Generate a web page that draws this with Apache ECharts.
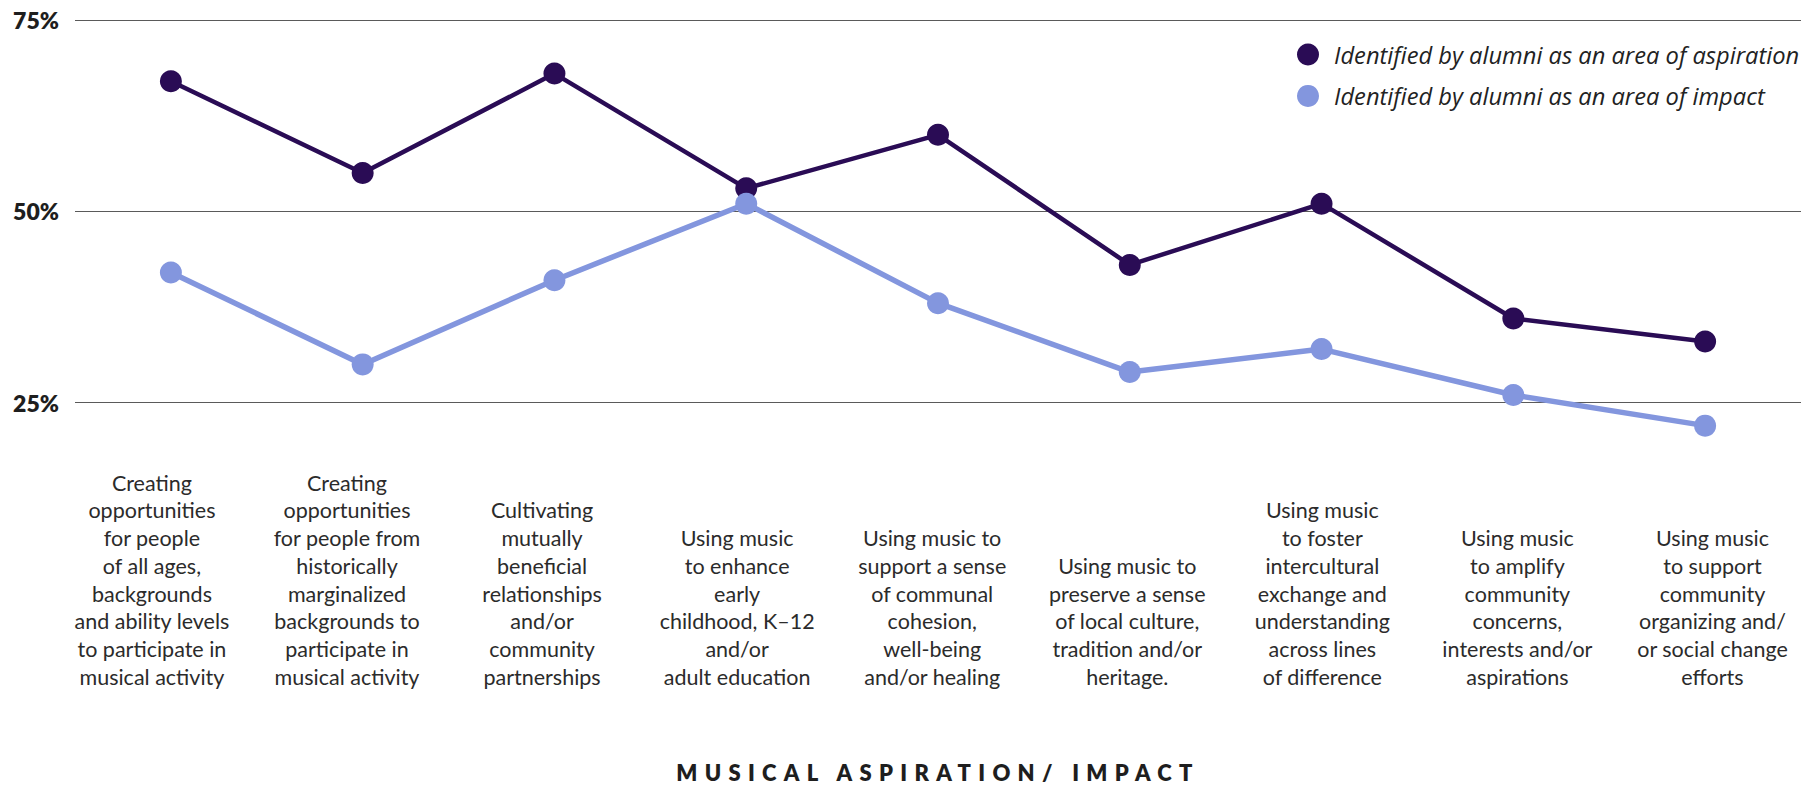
<!DOCTYPE html>
<html>
<head>
<meta charset="utf-8">
<script src="https://cdn.jsdelivr.net/npm/echarts@6/dist/echarts.min.js"></script>
<style>
html,body{margin:0;padding:0;background:#fff;}
#chart{width:1818px;height:788px;}
</style>
</head>
<body>
<div id="chart"></div>
<script>
const categories = [
  "Creating\nopportunities\nfor people\nof all ages,\nbackgrounds\nand ability levels\nto participate in\nmusical activity",
  "Creating\nopportunities\nfor people from\nhistorically\nmarginalized\nbackgrounds to\nparticipate in\nmusical activity",
  "Cultivating\nmutually\nbeneficial\nrelationships\nand/or\ncommunity\npartnerships",
  "Using music\nto enhance\nearly\nchildhood, K–12\nand/or\nadult education",
  "Using music to\nsupport a sense\nof communal\ncohesion,\nwell-being\nand/or healing",
  "Using music to\npreserve a sense\nof local culture,\ntradition and/or\nheritage.",
  "Using music\nto foster\nintercultural\nexchange and\nunderstanding\nacross lines\nof difference",
  "Using music\nto amplify\ncommunity\nconcerns,\ninterests and/or\naspirations",
  "Using music\nto support\ncommunity\norganizing and/\nor social change\nefforts"
];
const aspiration = [67, 55, 68, 53, 60, 43, 51, 36, 33];
const impact = [42, 30, 41, 51, 38, 29, 32, 26, 22];
const seriesNames = ["Identified by alumni as an area of aspiration", "Identified by alumni as an area of impact"];
const axisTitle = "MUSICAL ASPIRATION/ IMPACT";
const yTickLabels = {25: "25%", 50: "50%", 75: "75%"};

const chart = echarts.init(document.getElementById('chart'), null, {renderer: 'svg'});
chart.setOption({
  animation: false,
  backgroundColor: '#ffffff',
  grid: [
    {left: 75, right: 17, top: 20, bottom: 193.5, containLabel: false},
    {left: 54.4, right: 8, top: 20, bottom: 193.5, containLabel: false}
  ],
  legend: {
    orient: 'vertical',
    left: 1292,
    top: 37.5,
    itemWidth: 42,
    itemHeight: 22,
    itemGap: 17.4,
    icon: 'circle',
    data: seriesNames,
    textStyle: {fontFamily: 'Open Sans', fontStyle: 'italic', fontSize: 23.7, lineHeight: 22, color: '#222222'}
  },
  xAxis: [
    {
      type: 'category',
      gridIndex: 0,
      data: categories,
      boundaryGap: true,
      axisLine: {show: false},
      axisTick: {show: false},
      axisLabel: {show: false},
      name: axisTitle,
      nameLocation: 'middle',
      nameGap: 178,
      nameTextStyle: {fontFamily: 'Lato', fontWeight: 800, fontSize: 22, color: '#1e1e1e', verticalAlign: 'middle'}
    },
    {
      type: 'category',
      gridIndex: 1,
      data: categories,
      boundaryGap: true,
      axisLine: {show: false},
      axisTick: {show: false},
      axisLabel: {
        interval: 0,
        margin: 96,
        verticalAlign: 'bottom',
        align: 'center',
        fontFamily: 'Lato',
        fontSize: 21.5,
        lineHeight: 27.7,
        color: '#2b2b2b'
      }
    }
  ],
  yAxis: [
    {
      type: 'value',
      gridIndex: 0,
      min: 0,
      max: 75,
      interval: 25,
      axisLine: {show: false},
      axisTick: {show: false},
      axisLabel: {
        margin: 16,
        fontFamily: 'Lato',
        fontWeight: 800,
        fontSize: 23,
        color: '#1e1e1e',
        formatter: v => yTickLabels[v] || ''
      },
      splitLine: {show: true, lineStyle: {color: ['rgba(0,0,0,0)', '#5a5a5a', '#5a5a5a', '#5a5a5a'], width: 1.2}}
    },
    {
      type: 'value',
      gridIndex: 1,
      min: 0,
      max: 75,
      interval: 25,
      show: false
    }
  ],
  series: [
    {
      name: seriesNames[0],
      type: 'line',
      data: aspiration,
      symbol: 'circle',
      symbolSize: 22,
      color: '#2a0c55',
      lineStyle: {width: 4.5, color: '#2a0c55'},
      itemStyle: {color: '#2a0c55'}
    },
    {
      name: seriesNames[1],
      type: 'line',
      data: impact,
      symbol: 'circle',
      symbolSize: 22,
      color: '#8396de',
      lineStyle: {width: 5.5, color: '#8396de'},
      itemStyle: {color: '#8396de'}
    }
  ]
});
document.querySelectorAll('#chart svg text').forEach(t => {
  if (t.textContent === axisTitle) {
    t.setAttribute('letter-spacing', '7.3');
  }
});
</script>
</body>
</html>
